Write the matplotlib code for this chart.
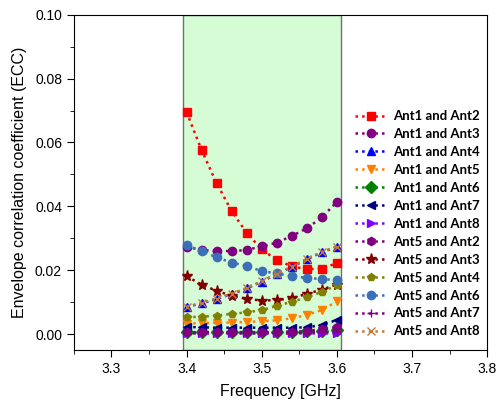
import numpy as np
import matplotlib
matplotlib.use('Agg')
import matplotlib.pyplot as plt
from matplotlib.ticker import MultipleLocator

plt.rcParams['font.family'] = ['Liberation Sans', 'DejaVu Sans']

# Tần số đo (GHz)
freq = [3.40, 3.42, 3.44, 3.46, 3.48, 3.50, 3.52, 3.54, 3.56, 3.58, 3.60]

# ECC giữa từng cặp anten
ant1_ant2 = [0.0695, 0.0576, 0.0472, 0.0385, 0.0317, 0.0265, 0.0232, 0.0212, 0.0203, 0.0205, 0.0222]
ant1_ant3 = [0.0273, 0.0263, 0.0260, 0.0260, 0.0263, 0.0275, 0.0286, 0.0307, 0.0331, 0.0365, 0.0414]
ant1_ant4 = [0.0085, 0.0096, 0.0110, 0.0125, 0.0143, 0.0164, 0.0188, 0.0210, 0.0234, 0.0256, 0.0273]
ant1_ant5 = [0.0033, 0.0034, 0.0035, 0.0036, 0.0038, 0.0040, 0.0043, 0.0049, 0.0060, 0.0075, 0.0102]
ant1_ant6 = [0.0006, 0.0006, 0.0006, 0.0006, 0.0006, 0.0006, 0.0006, 0.0007, 0.0008, 0.0010, 0.0014]
ant1_ant7 = [0.0022, 0.0021, 0.0020, 0.0020, 0.0020, 0.0020, 0.0020, 0.0020, 0.0021, 0.0028, 0.0044]
ant1_ant8 = [0.0002, 0.0002, 0.0002, 0.0002, 0.0002, 0.0002, 0.0002, 0.0002, 0.0002, 0.0002, 0.0003]
ant5_ant2 = [0.0005, 0.0005, 0.0005, 0.0005, 0.0005, 0.0005, 0.0006, 0.0007, 0.0009, 0.0016, 0.0022]
ant5_ant3 = [0.0181, 0.0155, 0.0135, 0.0120, 0.0110, 0.0105, 0.0106, 0.0112, 0.0126, 0.0139, 0.0155]
ant5_ant4 = [0.0053, 0.0054, 0.0058, 0.0063, 0.0068, 0.0075, 0.0088, 0.0101, 0.0115, 0.0132, 0.0153]
ant5_ant6 = [0.0278, 0.0260, 0.0240, 0.0224, 0.0213, 0.0197, 0.0190, 0.0181, 0.0176, 0.0172, 0.0169]
ant5_ant7 = [0.0003, 0.0003, 0.0003, 0.0003, 0.0003, 0.0003, 0.0003, 0.0003, 0.0004, 0.0005, 0.0006]
ant5_ant8 = [0.0086, 0.0097, 0.0111, 0.0126, 0.0144, 0.0165, 0.0189, 0.0211, 0.0235, 0.0257, 0.0274]

band = (3.395, 3.605)

series = [
    ('Ant1 and Ant2', ant1_ant2, '#ff0000', 's'),
    ('Ant1 and Ant3', ant1_ant3, '#800080', 'o'),
    ('Ant1 and Ant4', ant1_ant4, '#0000ff', '^'),
    ('Ant1 and Ant5', ant1_ant5, '#ff8000', 'v'),
    ('Ant1 and Ant6', ant1_ant6, '#008000', 'D'),
    ('Ant1 and Ant7', ant1_ant7, '#000080', '<'),
    ('Ant1 and Ant8', ant1_ant8, '#8000ff', '>'),
    ('Ant5 and Ant2', ant5_ant2, '#800080', 'h'),
    ('Ant5 and Ant3', ant5_ant3, '#800000', '*'),
    ('Ant5 and Ant4', ant5_ant4, '#808000', 'p'),
    ('Ant5 and Ant6', ant5_ant6, '#3b70b8', 'o'),
    ('Ant5 and Ant7', ant5_ant7, '#800080', '+'),
    ('Ant5 and Ant8', ant5_ant8, '#c07a3a', 'x'),
]

fig = plt.figure(figsize=(4.96, 4.03), dpi=100)
ax = fig.add_axes([0.149, 0.1315, 0.833, 0.832])

ax.axvspan(band[0], band[1], facecolor='#d6fcd6', edgecolor='#707070', linewidth=1.0, zorder=0)

for label, vals, color, mk in series:
    ms = 8 if mk == '*' else 6
    ax.plot(freq, vals, linestyle=':', linewidth=1.8, color=color, marker=mk,
            markersize=ms, label=label)

ax.set_xlim(3.25, 3.8)
ax.set_ylim(-0.005, 0.1)
ax.xaxis.set_major_locator(MultipleLocator(0.1))
ax.xaxis.set_minor_locator(MultipleLocator(0.05))
ax.yaxis.set_major_locator(MultipleLocator(0.02))
ax.yaxis.set_minor_locator(MultipleLocator(0.01))
ax.xaxis.set_major_formatter(plt.FuncFormatter(lambda v, p: f'{v:.1f}'))
ax.yaxis.set_major_formatter(plt.FuncFormatter(lambda v, p: f'{v:.2f}'))
ax.tick_params(which='both', direction='out', top=False, right=False, labelsize=10)
ax.tick_params(which='major', length=5)
ax.tick_params(which='minor', length=3)

ax.set_xlabel('Frequency [GHz]', fontsize=11.5, labelpad=6)
ax.set_ylabel('Envelope correlation coefficient (ECC)', fontsize=11.5, labelpad=6)

ax.legend(loc='upper left', bbox_to_anchor=(0.665, 0.735), frameon=False,
          prop={'family': 'Lato', 'weight': 'bold', 'size': 9.5},
          handlelength=2.4, handletextpad=0.45, labelspacing=0.45, borderpad=0)

fig.savefig('out.png', dpi=100)
